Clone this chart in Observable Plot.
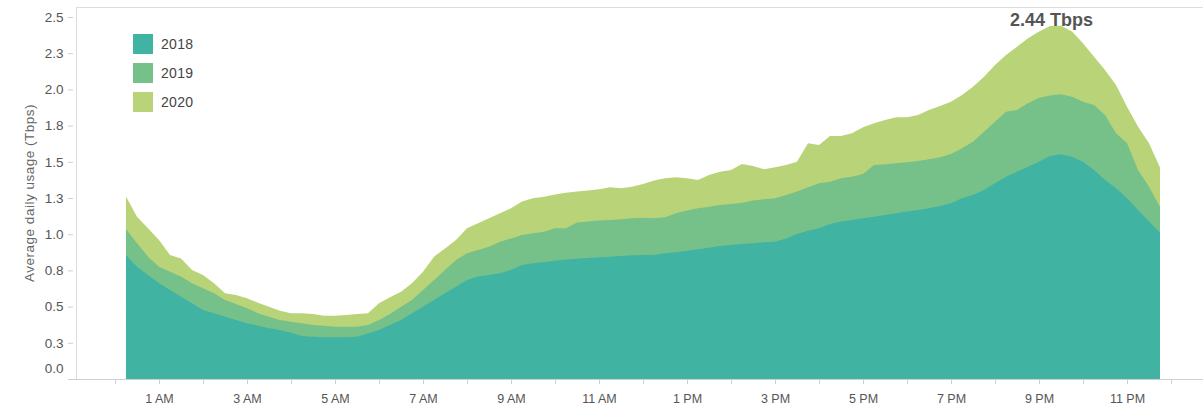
<!DOCTYPE html>
<html>
<head>
<meta charset="utf-8">
<script src="https://cdn.jsdelivr.net/npm/d3@7"></script>
<script src="https://cdn.jsdelivr.net/npm/@observablehq/plot@0.6"></script>
<style>
  body { margin: 0; background: #fff; font-family: "Liberation Sans", Arial, sans-serif; }
  #wrap { position: relative; width: 1203px; height: 407px; overflow: hidden; }
  #legend { position: absolute; left: 133px; top: 34px; }
  .item { display: flex; align-items: center; height: 20px; margin-bottom: 9px; }
  .sw { width: 20px; height: 20px; margin-right: 8px; }
  .lab { font-size: 14px; color: #444; letter-spacing: 0.3px; }
  #ylabel { position: absolute; left: 29px; top: 193px; transform: translate(-50%, -50%) rotate(-90deg);
            white-space: nowrap; font-size: 13.5px; letter-spacing: 0.5px; color: #666; }
</style>
</head>
<body>
<div id="wrap">
  <div id="chart"></div>
  <div id="legend"></div>
  <div id="ylabel">Average daily usage (Tbps)</div>
</div>
<script>
// ---- data ----
const years = ["2018", "2019", "2020"];
const colors = ["#40b3a2", "#76c08a", "#b9d478"];
const startHour = 0.25;   // first sample 00:15
const stepHours = 0.25;   // 15-minute samples

const y2018 = [
  0.856, 0.776, 0.718, 0.661, 0.615, 0.568, 0.523, 0.477, 0.454, 0.430, 0.407, 0.385, 0.368, 0.350, 0.338, 0.320,
  0.297, 0.292, 0.288, 0.288, 0.288, 0.292, 0.315, 0.338, 0.373, 0.407, 0.454, 0.499, 0.546, 0.592, 0.637, 0.684,
  0.707, 0.718, 0.730, 0.753, 0.787, 0.799, 0.806, 0.817, 0.826, 0.831, 0.836, 0.840, 0.845, 0.849, 0.854, 0.856,
  0.856, 0.868, 0.875, 0.886, 0.896, 0.907, 0.918, 0.925, 0.932, 0.937, 0.944, 0.948, 0.971, 1.001, 1.024, 1.041,
  1.070, 1.087, 1.098, 1.110, 1.121, 1.133, 1.144, 1.156, 1.167, 1.179, 1.195, 1.213, 1.248, 1.271, 1.305, 1.351,
  1.397, 1.432, 1.466, 1.501, 1.540, 1.552, 1.535, 1.501, 1.443, 1.374, 1.317, 1.248, 1.167, 1.087, 1.010
];
const y2019 = [
  1.036, 0.937, 0.845, 0.776, 0.741, 0.707, 0.661, 0.626, 0.592, 0.546, 0.518, 0.488, 0.454, 0.430, 0.407, 0.396,
  0.385, 0.373, 0.368, 0.361, 0.361, 0.361, 0.373, 0.407, 0.449, 0.499, 0.546, 0.615, 0.684, 0.753, 0.822, 0.868,
  0.891, 0.914, 0.948, 0.971, 0.994, 1.006, 1.017, 1.041, 1.041, 1.080, 1.087, 1.094, 1.098, 1.103, 1.110, 1.114,
  1.110, 1.117, 1.144, 1.163, 1.179, 1.190, 1.202, 1.209, 1.218, 1.232, 1.241, 1.248, 1.271, 1.294, 1.324, 1.351,
  1.363, 1.386, 1.397, 1.416, 1.478, 1.483, 1.490, 1.496, 1.506, 1.517, 1.531, 1.554, 1.593, 1.639, 1.708, 1.777,
  1.846, 1.858, 1.904, 1.943, 1.957, 1.966, 1.950, 1.915, 1.892, 1.823, 1.697, 1.628, 1.443, 1.328, 1.190
];
const y2020 = [
  1.260, 1.121, 1.041, 0.960, 0.856, 0.833, 0.753, 0.718, 0.661, 0.592, 0.580, 0.557, 0.527, 0.499, 0.472, 0.454,
  0.454, 0.449, 0.437, 0.437, 0.442, 0.449, 0.454, 0.523, 0.564, 0.603, 0.661, 0.741, 0.845, 0.902, 0.960, 1.041,
  1.075, 1.110, 1.144, 1.179, 1.225, 1.248, 1.259, 1.275, 1.287, 1.294, 1.301, 1.310, 1.324, 1.317, 1.328, 1.347,
  1.370, 1.386, 1.393, 1.386, 1.374, 1.409, 1.432, 1.443, 1.485, 1.471, 1.448, 1.462, 1.478, 1.501, 1.628, 1.616,
  1.678, 1.678, 1.697, 1.738, 1.766, 1.789, 1.807, 1.807, 1.823, 1.858, 1.885, 1.915, 1.961, 2.019, 2.088, 2.169,
  2.238, 2.295, 2.353, 2.399, 2.438, 2.440, 2.399, 2.318, 2.226, 2.134, 2.030, 1.881, 1.743, 1.628, 1.460
];

const xTicks = [1, 3, 5, 7, 9, 11, 13, 15, 17, 19, 21, 23];
const xTickLabels = ["1 AM", "3 AM", "5 AM", "7 AM", "9 AM", "11 AM", "1 PM", "3 PM", "5 PM", "7 PM", "9 PM", "11 PM"];
const hourTicks = [0, 1, 2, 3, 4, 5, 6, 7, 8, 9, 10, 11, 12, 13, 14, 15, 16, 17, 18, 19, 20, 21, 22, 23, 24];
const yTicks = [0.25, 0.5, 0.75, 1.0, 1.25, 1.5, 1.75, 2.0, 2.25, 2.5];
const yTickLabels = ["0.3", "0.5", "0.8", "1.0", "1.3", "1.5", "1.8", "2.0", "2.3", "2.5"];
const zeroLabel = "0.0";
const unit = "Tbps";

// ---- build rows ----
const series = {"2018": y2018, "2019": y2019, "2020": y2020};
const rows = {};
for (const yr of years) {
  rows[yr] = series[yr].map((v, i) => ({hour: startHour + i * stepHours, value: v, year: yr}));
}
const peak = rows["2020"].reduce((a, b) => (b.value > a.value ? b : a));

const colorOf = Object.fromEntries(years.map((y, i) => [y, colors[i]]));

const plot = Plot.plot({
  width: 1203,
  height: 407,
  marginLeft: 76,
  marginRight: 0,
  marginTop: 7,
  marginBottom: 28,
  x: {domain: [-0.886, 24.727], label: null},
  y: {domain: [0, 2.569], label: null},
  style: {fontFamily: "'Liberation Sans', Arial, sans-serif", fontSize: "12px", background: "white", overflow: "visible"},
  marks: [
    Plot.frame({anchor: "top", stroke: "#dcdcdc"}),
    Plot.frame({anchor: "left", stroke: "#dcdcdc"}),
    // draw largest first so smaller years sit on top
    ...years.slice().reverse().map(yr =>
      Plot.areaY(rows[yr], {x: "hour", y1: 0, y2: "value", fill: colorOf[yr]})
    ),
    Plot.ruleY([0], {stroke: "#cfcfcf", insetLeft: -8}),
    Plot.axisX(hourTicks, {tickSize: 5, stroke: "#cfcfcf", tickFormat: () => "", label: null}),
    Plot.axisX(xTicks, {tickSize: 0, tickPadding: 15, fill: "#555", fontSize: 12.5,
      tickFormat: d => xTickLabels[xTicks.indexOf(d)], label: null}),
    Plot.axisY(yTicks, {tickSize: 5, tickPadding: 5, dx: -3, stroke: "#cfcfcf", fill: "#555", fontSize: 13.5,
      tickFormat: d => yTickLabels[yTicks.indexOf(d)], label: null}),
    Plot.axisY([0], {tickSize: 0, tickPadding: 13, dy: -11, fill: "#555", fontSize: 13.5,
      tickFormat: () => zeroLabel, label: null}),
    Plot.text([peak], {x: "hour", y: "value", text: d => `${d3.format(".2f")(d.value)} ${unit}`,
      dx: -10, dy: -6, lineAnchor: "middle", fontSize: 18, fontWeight: "bold", fill: "#555"})
  ]
});
document.getElementById("chart").appendChild(plot);

// legend
const legend = document.getElementById("legend");
years.forEach((yr, i) => {
  const item = document.createElement("div");
  item.className = "item";
  item.innerHTML = `<div class="sw" style="background:${colors[i]}"></div><span class="lab">${yr}</span>`;
  legend.appendChild(item);
});
</script>
</body>
</html>
